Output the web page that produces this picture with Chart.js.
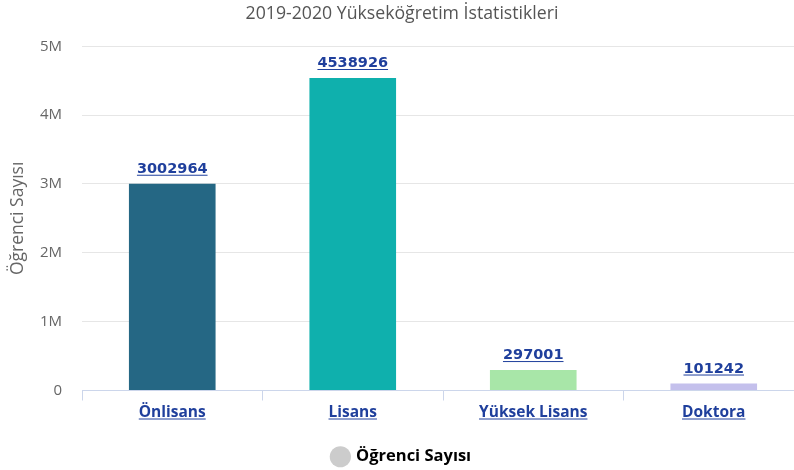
<!DOCTYPE html>
<html>
<head>
<meta charset="utf-8">
<script src="https://cdn.jsdelivr.net/npm/chart.js@4/dist/chart.umd.min.js"></script>
<style>
  html, body { margin: 0; padding: 0; background: #fff; overflow: hidden; }
  #wrap { width: 804px; height: 470px; }
</style>
</head>
<body>
<div id="wrap"><canvas id="chart"></canvas></div>
<script>
// data
const categories = ["Önlisans", "Lisans", "Yüksek Lisans", "Doktora"]
const studentCounts = [3002964, 4538926, 297001, 101242]
const barColors = ["#256784", "#0fb0ad", "#a8e6a8", "#c4c0ec"]
const yTicks = [0, 1000000, 2000000, 3000000, 4000000, 5000000]
const seriesName = "Öğrenci Sayısı"
const titleText = "2019-2020 Yükseköğretim İstatistikleri"

const linkColor = "#1f3f9c"
const fontFamily = "'Open Sans', 'Noto Sans', sans-serif"

function underline(ctx, x, y, w, color) {
    ctx.save()
    ctx.strokeStyle = color
    ctx.lineWidth = 1
    ctx.beginPath()
    ctx.moveTo(x - w / 2, y + 0.5)
    ctx.lineTo(x + w / 2, y + 0.5)
    ctx.stroke()
    ctx.restore()
}

// value labels over the bars + underlined category labels
const labelsPlugin = {
    id: "linkLabels",
    afterDatasetsDraw(chart) {
        const ctx = chart.ctx
        const meta = chart.getDatasetMeta(0)
        ctx.save()
        ctx.font = "bold 14.5px 'DejaVu Sans', sans-serif"
        ctx.fillStyle = linkColor
        ctx.textAlign = "center"
        ctx.textBaseline = "alphabetic"
        meta.data.forEach((bar, i) => {
            const txt = String(studentCounts[i])
            const y = bar.y - 11
            ctx.fillText(txt, bar.x, y)
            underline(ctx, bar.x, y + 2, ctx.measureText(txt).width, linkColor)
        })

        const xs = chart.scales.x
        ctx.font = "bold 15.5px " + fontFamily
        categories.forEach((c, i) => {
            const x = xs.getPixelForTick(i)
            const y = xs.top + 26
            ctx.fillText(c, x, y)
            underline(ctx, x, y + 2, ctx.measureText(c).width, linkColor)
        })
        ctx.restore()
    }
}

new Chart(document.getElementById("chart"), {
    type: "bar",
    data: {
        labels: categories,
        datasets: [{
            label: seriesName,
            data: studentCounts,
            backgroundColor: barColors,
            borderWidth: 0,
            categoryPercentage: 1,
            barPercentage: 0.48
        }]
    },
    options: {
        responsive: true,
        maintainAspectRatio: false,
        animation: false,
        layout: { padding: { left: 0, right: 0, top: 0, bottom: -5 } },
        plugins: {
            title: {
                display: true,
                text: titleText,
                color: "#555",
                font: { family: fontFamily, size: 17.7, weight: "normal" },
                padding: { top: 3, bottom: 22 }
            },
            legend: {
                position: "bottom",
                labels: {
                    usePointStyle: true,
                    pointStyle: "circle",
                    boxWidth: 15,
                    boxHeight: 15,
                    color: "#333",
                    padding: 12,
                    font: { family: fontFamily, size: 16.5, weight: "bold" },
                    generateLabels: () => [{
                        text: seriesName,
                        fillStyle: "#cccccc",
                        strokeStyle: "#cccccc",
                        lineWidth: 0,
                        pointStyle: "circle",
                        datasetIndex: 0
                    }]
                }
            },
            tooltip: { enabled: false }
        },
        scales: {
            x: {
                grid: {
                    offset: true,
                    drawOnChartArea: false,
                    tickLength: 10,
                    color: "#ccd6eb"
                },
                border: { color: "#ccd6eb" },
                ticks: {
                    // drawn by the plugin so they can be underlined
                    color: "rgba(0,0,0,0)",
                    font: { family: fontFamily, size: 15, weight: "bold" },
                    padding: 9
                }
            },
            y: {
                min: 0,
                max: 5000000,
                afterBuildTicks: (axis) => { axis.ticks = yTicks.map(v => ({ value: v })) },
                afterFit: (axis) => { axis.width = 82 },
                grid: { color: "#e6e6e6", drawTicks: false },
                border: { display: false },
                ticks: {
                    color: "#666",
                    padding: 20,
                    font: { family: fontFamily, size: 15 },
                    callback: (v) => v === 0 ? "0" : (v / 1000000) + "M"
                },
                title: {
                    display: true,
                    text: seriesName,
                    color: "#666",
                    padding: { top: 8, bottom: 0 },
                    font: { family: fontFamily, size: 17.5 }
                }
            }
        }
    },
    plugins: [labelsPlugin]
})
</script>
</body>
</html>
